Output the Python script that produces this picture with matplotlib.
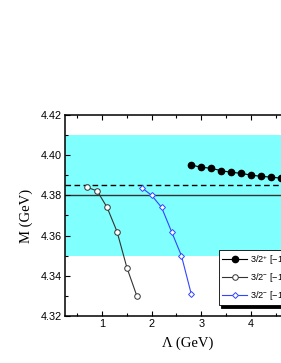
import matplotlib
matplotlib.use("Agg")
import matplotlib.pyplot as plt

# data
lam_a = [2.8, 3.0, 3.2, 3.4, 3.6, 3.8, 4.0, 4.2, 4.4, 4.6, 4.8, 5.0, 5.2]
m_a = [4.3951, 4.3940, 4.3935, 4.3923, 4.3915, 4.3910, 4.3901, 4.3895,
       4.3891, 4.3886, 4.3882, 4.3878, 4.3875]
lam_b = [0.7, 0.9, 1.1, 1.3, 1.5, 1.7]
m_b = [4.3840, 4.3822, 4.3740, 4.3620, 4.3440, 4.3300]
lam_c = [1.8, 2.0, 2.2, 2.4, 2.6, 2.8]
m_c = [4.3838, 4.3800, 4.3740, 4.3620, 4.3500, 4.3308]
band = (4.35, 4.41)
m_exp = 4.38
m_thr = 4.385
labels = [r"3/2$^{+}$ [$-$1,0,1]", r"3/2$^{-}$ [$-$1,1,0]", r"3/2$^{-}$ [$-$1,0,1]"]

plt.rcParams['font.family'] = ['Liberation Sans', 'DejaVu Sans']
plt.rcParams['mathtext.fontset'] = 'custom'
plt.rcParams['mathtext.rm'] = 'Liberation Sans'
plt.rcParams['mathtext.it'] = 'Liberation Sans:italic'
fig = plt.figure(figsize=(2.81, 3.63), dpi=100)
ax = fig.add_axes([0.2313, 0.1295, 0.8904, 0.5537])

ax.axhspan(band[0], band[1], color='#80ffff', lw=0, zorder=0)
ax.axhline(m_exp, color='#333333', lw=1.0, zorder=1)
ax.axhline(m_thr, color='black', lw=1.0, ls=(0, (4, 2.5)), zorder=1)

ax.plot(lam_a, m_a, '-o', color='black', lw=0.8, ms=4.5, label=labels[0])
ax.plot(lam_b, m_b, '-o', color='#333333', lw=0.8, ms=4, mfc='white',
        mec='#333333', mew=0.7, label=labels[1])
ax.plot(lam_c, m_c, '-D', color='#3344ff', lw=0.8, ms=3, mfc='white',
        mec='#3344ff', mew=0.7, label=labels[2])

ax.set_xlim(0.25, 5.3)
ax.set_ylim(4.32, 4.42)
ax.set_xticks([1, 2, 3, 4, 5])
ax.set_xticks([0.5, 1.5, 2.5, 3.5, 4.5], minor=True)
ax.set_yticks([4.32, 4.34, 4.36, 4.38, 4.40, 4.42])
ax.set_yticklabels(['4.32', '4.34', '4.36', '4.38', '4.40', '4.42'])
ax.set_yticks([4.33, 4.35, 4.37, 4.39, 4.41], minor=True)
ax.tick_params(which='both', direction='in', top=True, right=True,
               labelsize=7.8, width=0.8, pad=2.5)
ax.tick_params(which='major', length=3.5)
ax.tick_params(which='minor', length=2)
for s in ax.spines.values():
    s.set_linewidth(1.1)

ax.set_xlabel("Λ (GeV)", family='Liberation Serif', fontsize=10.5, labelpad=5)
ax.set_ylabel("M (GeV)", family='Liberation Serif', fontsize=10.5, labelpad=5)
ax.xaxis.set_label_coords(0.49, -0.1)

leg = ax.legend(loc='lower left', bbox_to_anchor=(3.35, 4.3255),
                bbox_transform=ax.transData, borderaxespad=0,
                prop={'family': 'Liberation Sans', 'size': 6.6},
                fancybox=False, edgecolor='black', framealpha=1,
                shadow={'color': 'black', 'alpha': 1}, handlelength=2.8,
                labelspacing=0.5, borderpad=0.35, handletextpad=0.25)
leg.get_frame().set_linewidth(0.6)

fig.savefig("out.png", dpi=100)
